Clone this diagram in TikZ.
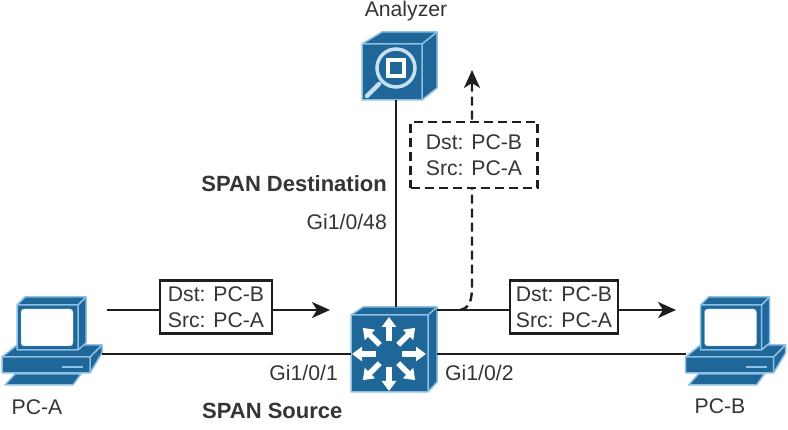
\documentclass[tikz,border=0pt]{standalone}
\usepackage{fontspec}
\setmainfont{Liberation Sans}
\usetikzlibrary{calc, arrows.meta}

\definecolor{iconblue}{HTML}{1F6699}
\definecolor{iconedge}{HTML}{8DC0E4}
\definecolor{linegray}{HTML}{1E1E1E}

\tikzset{
	label/.style = {font=\fontsize{21.2}{26}\selectfont, text=linegray!90!white, inner sep=0pt},
	title/.style = {label, font=\fontsize{22}{26}\selectfont\bfseries},
	frame/.style = {draw=linegray, line width=2.2pt, fill=white, align=left, inner sep=0pt, minimum height=53, label},
	wire/.style = {draw=linegray, line width=2.4pt},
	flow/.style = {draw=linegray, line width=2.4pt, -{Stealth[length=18pt, width=16pt, inset=5pt]}},
	cut/.style = {dash pattern=on 9pt off 5pt},
	face/.style = {fill=iconblue, draw=iconedge, line width=1.5pt, line join=round},
	pc/.pic = {
		%base
		\draw [face] (2,77) -- (17,65) -- (102,65) -- (102,73) -- (90,93) -- (2,93) -- cycle;
		\draw [iconedge, line width=1.5pt] (2,77) -- (90,77) -- (102,65) (90,77) -- (90,93);
		\draw [iconedge, line width=1.8pt] (62,87) -- (83,87);
		%monitor
		\draw [face] (17,25) -- (25,17) -- (86,17) -- (86,63) -- (78,70) -- (17,70) -- cycle;
		\draw [iconedge, line width=1.5pt] (17,25) -- (78,25) -- (86,17) (78,25) -- (78,70);
		\fill [white, draw=iconedge, rounded corners=3pt] (21,29) rectangle (73,66);
		%keyboard
		\draw [face] (5,105) -- (15,94) -- (81,94) -- (73,105) -- cycle;
		\coordinate (-right) at (102,74);
		\coordinate (-left) at (2,74);
	}
}

\begin{document}
\begin{tikzpicture}[x=1pt, y=-1pt]
	\useasboundingbox [fill=white] (0,0) rectangle (788,430);

	%end stations
	\pic (pca) at (0,280) {pc};
	\pic (pcb) at (683.5,280) {pc};
	\node [label] (pcalabel) at (37,407) {PC-A};
	\node [label] (pcblabel) at (720,406) {PC-B};

	%analyzer
	\draw [face] (362,44) -- (382,32) -- (437,32) -- (437,88) -- (422,100) -- (362,100) -- cycle;
	\draw [iconedge, line width=1.5pt] (362,44) -- (422,44) -- (437,32) (422,44) -- (422,100);
	\node [inner sep=0pt, minimum width=60, minimum height=56] (ana) at (392,72) {};
	\draw [iconedge!50!white, line width=4.5pt, line cap=round] (379,84) -- (367,96);
	\draw [iconedge!50!white, line width=3.5pt] (396,68) circle [radius = 19];
	\draw [white, line width=3.5pt] (388,60) rectangle (404,76);
	\node [label] (analabel) at (406,11) {Analyzer};

	%switch
	\draw [face] (351,315) -- (363,307) -- (437,307) -- (437,382) -- (428,392) -- (351,392) -- cycle;
	\draw [iconedge, line width=1.5pt] (351,315) -- (428,315) -- (437,307) (428,315) -- (428,392);
	\node [inner sep=0pt, minimum width=77, minimum height=78] (sw) at (389.5,354) {};
	\coordinate (swc) at (389,354);
	\foreach \angle in {0,45,...,315}
		\draw [white, line width=5.5pt, -{Triangle[length=10pt, width=14pt]}] ($ (swc) + (\angle:13) $) -- ($ (swc) + (\angle:37) $);

	%links
	\coordinate (swtop) at (396,307);
	\coordinate (swright) at (437,354);
	\coordinate (swport) at (437,310);
	\coordinate (anabot) at (396,100);
	\draw [wire] (anabot) -- (swtop);
	\draw [wire] (pca-right) -- (sw.west);
	\draw [wire] (swright) -- (pcb-left);

	%copied frame
	\coordinate (turn) at (460,310);
	\coordinate (tip) at (472,70);
	\draw [flow, cut] (turn) .. controls (470,308) and (472,300) .. (472,285) -- (tip);

	%frames on the wire
	\coordinate (fromA) at (107,310);
	\coordinate (toA) at (330,310);
	\coordinate (toB) at (676,310);
	\draw [flow] (fromA) -- (toA);
	\draw [flow] (swport) -- (toB);
	\node [frame, minimum width=112] (boxa) at (216,307) {Dst: PC-B\\Src: PC-A};
	\node [frame, minimum width=108] (boxb) at (564,307) {Dst: PC-B\\Src: PC-A};
	\node [frame, cut, minimum width=127, minimum height=66] (boxc) at (474,155) {Dst: PC-B\\Src: PC-A};

	%ports
	\node [title, anchor=east] (dstlabel) at (387,184) {SPAN Destination};
	\node [label, anchor=east] (p48) at (387,222) {Gi1/0/48};
	\node [label, anchor=east] (p1) at (338,373) {Gi1/0/1};
	\node [label, anchor=west] (p2) at (445,373) {Gi1/0/2};
	\node [title, anchor=west] (srclabel) at (202,411) {SPAN Source};
\end{tikzpicture}
\end{document}
